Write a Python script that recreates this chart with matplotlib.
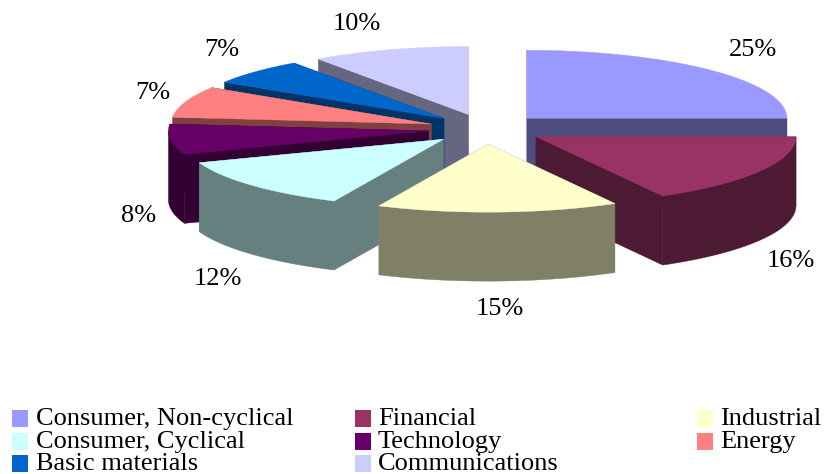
import numpy as np
import matplotlib
matplotlib.use('Agg')
import matplotlib.pyplot as plt
from matplotlib.patches import Polygon, Rectangle

categories = ['Consumer, Non-cyclical', 'Financial', 'Industrial', 'Consumer, Cyclical',
              'Technology', 'Energy', 'Basic materials', 'Communications']
# shares as measured from the slices, labels as printed on the chart
shares = [25, 16.9, 15, 12.5, 7.2, 7.4, 6.2, 9.8]
pct_labels = ['25%', '16%', '15%', '12%', '8%', '7%', '7%', '10%']
top_colors = ['#9999FF', '#993366', '#FFFFCC', '#CCFFFF', '#660066', '#FF8080', '#0066CC', '#CCCCFF']
wall_colors = ['#4D4D80', '#4D1A33', '#808066', '#668080', '#330033', '#804040', '#003366', '#666680']
draw_order = [0, 7, 6, 5, 4, 1, 3, 2]

label_pos = [(753, 50), (791, 261), (500, 309), (218, 279), (139, 216), (153, 93), (222, 50), (357, 24)]

cx, cy = 486, 129
rx, ry = 260, 68
depth = 69
explode = 0.223

plt.rcParams['font.family'] = ['Liberation Serif', 'DejaVu Serif']

fig = plt.figure(figsize=(8.24, 4.74), dpi=100)
ax = fig.add_axes([0, 0, 1, 1])
ax.set_xlim(0, 824)
ax.set_ylim(474, 0)
ax.axis('off')

edges = np.concatenate([[0], np.cumsum(shares)]) / sum(shares) * 2 * np.pi


def rim(t, x0, y0):
    # t is clockwise from 12 o'clock
    return x0 + rx * np.sin(t), y0 - ry * np.cos(t)


def face(pts, color, z):
    ax.add_patch(Polygon(pts, closed=True, facecolor=color, edgecolor=color, linewidth=0.3, zorder=z))


for n, i in enumerate(draw_order):
    a, b = edges[i], edges[i + 1]
    mid = (a + b) / 2
    x0 = cx + rx * explode * np.sin(mid)
    y0 = cy - ry * explode * np.cos(mid)
    ts = np.linspace(a, b, 80)
    xs, ys = rim(ts, x0, y0)
    z = 2 + n

    # cut faces
    for t in (a, b):
        xr, yr = rim(t, x0, y0)
        face([(x0, y0), (xr, yr), (xr, yr + depth), (x0, y0 + depth)], wall_colors[i], z)

    # outer wall, only the part turned to the viewer
    front = np.cos(ts) <= 0
    if front.sum() > 1:
        fx, fy = xs[front], ys[front]
        pts = np.column_stack([np.r_[fx, fx[::-1]], np.r_[fy, fy[::-1] + depth]])
        face(pts, wall_colors[i], z)

    face(np.column_stack([np.r_[x0, xs], np.r_[y0, ys]]), top_colors[i], z)

for lab, (lx, ly) in zip(pct_labels, label_pos):
    ax.text(lx, ly, lab, ha='center', va='center', fontsize=19, color='black', zorder=20)

# legend, three columns
col_x = [12, 355, 697]
text_x = [36, 378, 720]
row_y = [418.5, 441.5, 463.5]
for i, name in enumerate(categories):
    row, col = divmod(i, 3)
    ax.add_patch(Rectangle((col_x[col], row_y[row] - 8.5), 16, 17, facecolor=top_colors[i], edgecolor='none'))
    ax.text(text_x[col], row_y[row] + 0.5, name, ha='left', va='center', fontsize=19, color='black')

fig.savefig('out.png', dpi=100)
